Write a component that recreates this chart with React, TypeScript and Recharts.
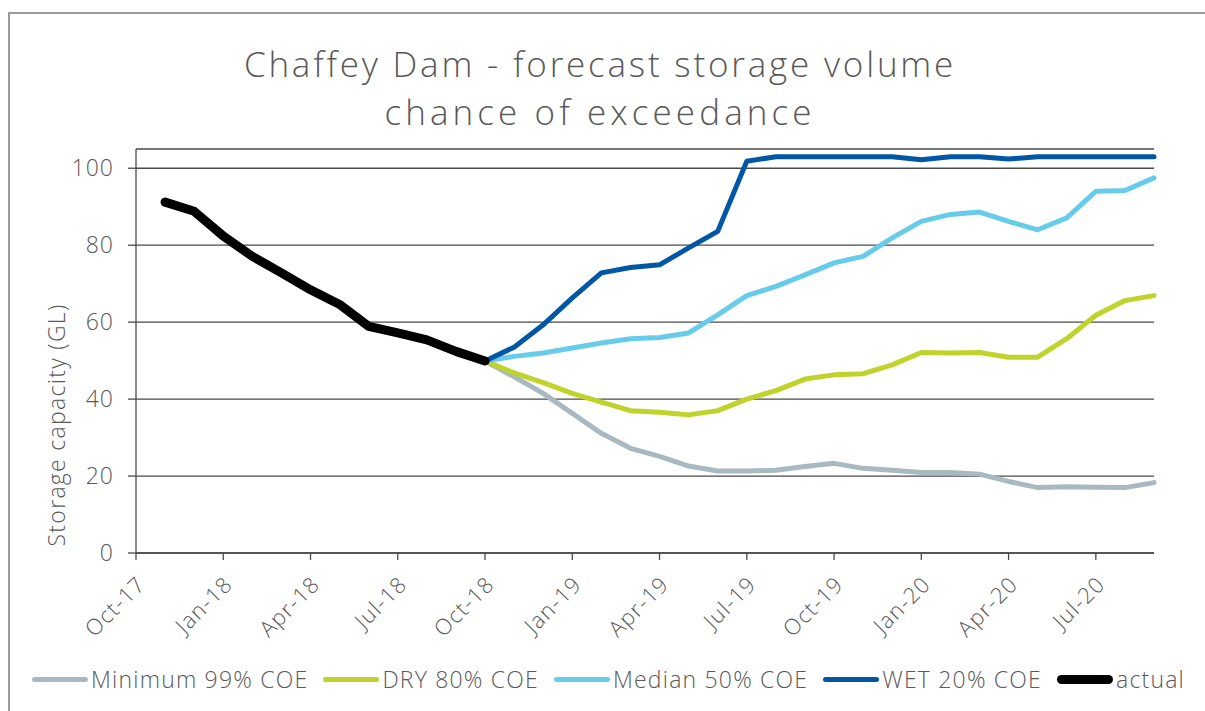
import { CartesianGrid, Line, LineChart, XAxis, YAxis } from 'recharts'

// month index: 0 = Oct-17
const actualMonths = [1, 2, 3, 4, 5, 6, 7, 8, 9, 10, 11, 12]
const actualValues = [91.2, 88.8, 82.4, 77.1, 72.8, 68.4, 64.6, 58.9, 57.2, 55.4, 52.4, 49.9]

const forecastMonths = [12, 13, 14, 15, 16, 17, 18, 19, 20, 21, 22, 23, 24, 25, 26, 27, 28, 29, 30, 31, 32, 33, 34, 35]
const minimumValues = [49.9, 45.8, 41.5, 36.3, 31.1, 27.2, 25.1, 22.6, 21.3, 21.3, 21.5, 22.5, 23.3, 22.0, 21.5, 20.9, 20.9, 20.5, 18.6, 17.0, 17.2, 17.1, 17.0, 18.3]
const dryValues = [49.9, 46.8, 44.3, 41.5, 39.2, 37.0, 36.6, 35.9, 37.0, 40.0, 42.2, 45.2, 46.3, 46.6, 48.9, 52.1, 52.0, 52.1, 50.9, 50.9, 55.7, 61.8, 65.6, 66.9]
const medianValues = [49.9, 51.1, 52.0, 53.3, 54.6, 55.7, 56.0, 57.2, 61.9, 66.9, 69.3, 72.3, 75.4, 77.1, 81.9, 86.2, 88.0, 88.6, 86.2, 84.0, 87.1, 94.0, 94.2, 97.5]
const wetValues = [49.9, 53.5, 59.3, 66.3, 72.8, 74.2, 74.9, 79.3, 83.6, 101.8, 103, 103, 103, 103, 103, 102.2, 103, 103, 102.4, 103, 103, 103, 103, 103]

const tickMonths = [0, 3, 6, 9, 12, 15, 18, 21, 24, 27, 30, 33]
const tickLabels = ['Oct-17', 'Jan-18', 'Apr-18', 'Jul-18', 'Oct-18', 'Jan-19', 'Apr-19', 'Jul-19', 'Oct-19', 'Jan-20', 'Apr-20', 'Jul-20']
const yTicks = [0, 20, 40, 60, 80, 100]

const titleLines = ['Chaffey Dam - forecast storage volume', 'chance of exceedance']

const series = [
  { key: 'minimum', name: 'Minimum 99% COE', color: '#a9b9c1', width: 5 },
  { key: 'dry', name: 'DRY 80% COE', color: '#bfd32a', width: 5 },
  { key: 'median', name: 'Median 50% COE', color: '#67cbea', width: 5 },
  { key: 'wet', name: 'WET 20% COE', color: '#0057a6', width: 5 },
  { key: 'actual', name: 'actual', color: '#000000', width: 9 },
]

type Row = { m: number; [k: string]: number }

const rowsByMonth = new Map<number, Row>()
const rowFor = (m: number) => {
  if (!rowsByMonth.has(m)) rowsByMonth.set(m, { m })
  return rowsByMonth.get(m) as Row
}
actualMonths.forEach((m, i) => { rowFor(m).actual = actualValues[i] })
forecastMonths.forEach((m, i) => {
  const r = rowFor(m)
  r.minimum = minimumValues[i]
  r.dry = dryValues[i]
  r.median = medianValues[i]
  r.wet = wetValues[i]
})
const data = [...rowsByMonth.values()].sort((a, b) => a.m - b.m)

const FONT = '"Open Sans", "DejaVu Sans", sans-serif'
const TEXT = '#595959'

function XTick(props: any) {
  const { x, y, payload } = props
  const label = tickLabels[tickMonths.indexOf(payload.value)]
  const ax = x + 5
  const ay = y + 18
  return (
    <text x={ax} y={ay} dy={8} transform={`rotate(-45 ${ax} ${ay})`} textAnchor="end"
      fill={TEXT} fontSize={22} fontFamily={FONT} fontWeight={300} letterSpacing={1.2}>
      {label}
    </text>
  )
}

export default function App() {
  return (
    <div style={{ position: 'absolute', left: 0, top: 0, width: 1205, height: 711, background: '#fff', fontFamily: FONT, overflow: 'hidden' }}>
      <div style={{ position: 'absolute', left: 8, top: 12, right: 0, bottom: 0, borderTop: '2px solid #9a9a9a', borderLeft: '2px solid #9a9a9a' }} />
      {titleLines.map((t, i) => (
        <div key={i} style={{ position: 'absolute', left: 0, top: 40 + i * 48, width: 1200, height: 48, textAlign: 'center', color: TEXT, fontSize: 35, lineHeight: '48px', fontWeight: 300, letterSpacing: i === 0 ? 2.8 : 4.1, whiteSpace: 'nowrap' }}>
          {t}
        </div>
      ))}
      <div style={{ position: 'absolute', left: 56, top: 425, transform: 'translate(-50%, -50%) rotate(-90deg)', whiteSpace: 'nowrap', color: TEXT, fontSize: 23, fontWeight: 300, letterSpacing: 1.3 }}>
        Storage capacity (GL)
      </div>
      <div style={{ position: 'absolute', left: 0, top: 0 }}>
        <LineChart width={1205} height={711} data={data} margin={{ top: 149, right: 51, bottom: 0, left: 0 }}>
          <CartesianGrid horizontal vertical={false} stroke="#4a4a4a" strokeWidth={1.3} />
          <XAxis dataKey="m" type="number" domain={[0, 35]} ticks={tickMonths} interval={0}
            height={158} tickSize={7} stroke="#4a4a4a" strokeWidth={1.3} tick={<XTick />} allowDecimals />
          <YAxis type="number" domain={[0, 105]} ticks={yTicks} width={136} tickSize={8} tickMargin={14}
            stroke="#4a4a4a" strokeWidth={1.3}
            tick={{ fill: TEXT, fontSize: 23, fontFamily: FONT, fontWeight: 300, letterSpacing: 1 }} />
          {series.map((s) => (
            <Line key={s.key} dataKey={s.key} name={s.name} type="linear" stroke={s.color}
              strokeWidth={s.width} strokeLinejoin="round" strokeLinecap="round"
              dot={false} activeDot={false} connectNulls isAnimationActive={false} />
          ))}
        </LineChart>
      </div>
      <div style={{ position: 'absolute', left: 32, top: 664, height: 30, display: 'flex', alignItems: 'center', color: TEXT, fontSize: 23, fontWeight: 300, letterSpacing: 1.2, whiteSpace: 'nowrap' }}>
        {series.map((s) => (
          <div key={s.key} style={{ display: 'flex', alignItems: 'center', marginRight: 15 }}>
            <span style={{ display: 'inline-block', width: 56, height: s.width, borderRadius: s.width / 2, background: s.color, marginRight: 3 }} />
            <span>{s.name}</span>
          </div>
        ))}
      </div>
    </div>
  )
}
